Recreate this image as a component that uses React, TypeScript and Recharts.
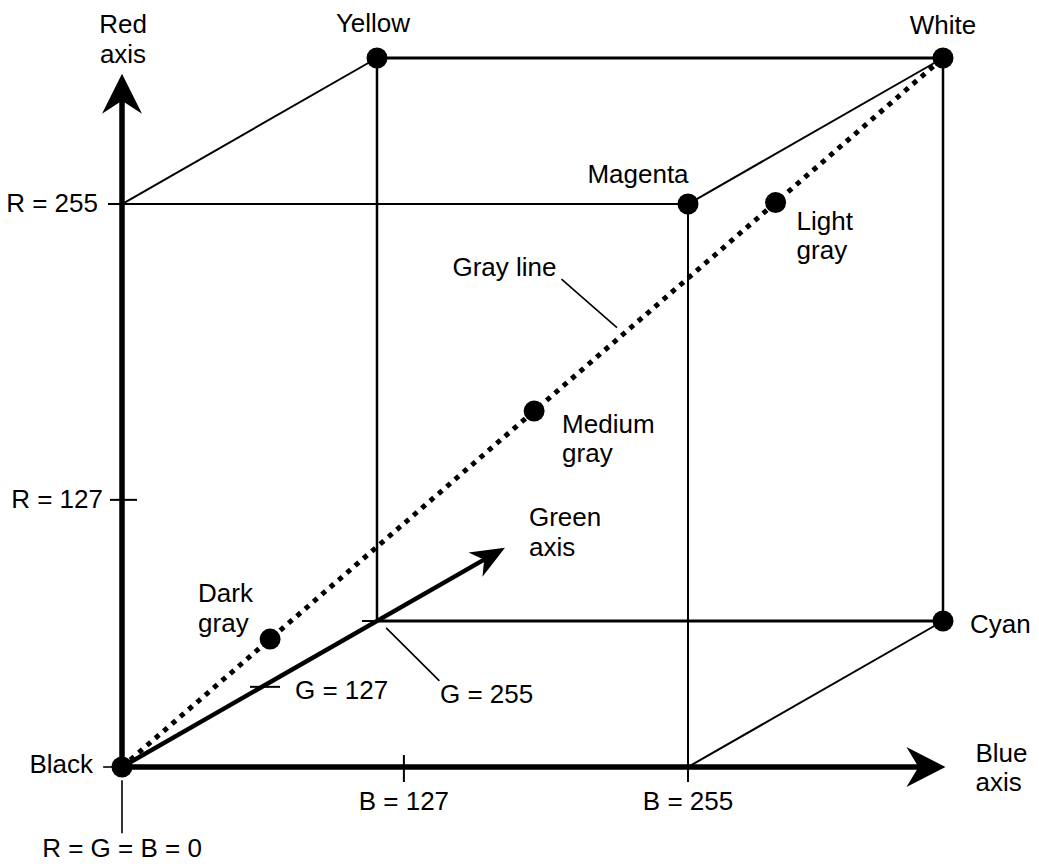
import React from 'react';
import { ComposedChart, XAxis, YAxis, ReferenceLine, Scatter } from 'recharts';

// ---------------- data ----------------
// RGB cube corners (B, G, R values)
const cornerNames = ['Black', 'Blue', 'Red', 'Magenta', 'Green', 'Cyan', 'Yellow', 'White'];
const cornerB = [0, 255, 0, 255, 0, 255, 0, 255];
const cornerG = [0, 0, 0, 0, 255, 255, 255, 255];
const cornerR = [0, 0, 255, 255, 0, 0, 255, 255];
const labelledCorners = ['Black', 'Magenta', 'Cyan', 'Yellow', 'White'];

// gray points on the gray line (R = G = B)
const grayNames = ['Dark gray', 'Medium gray', 'Light gray'];
const grayLevels = [46, 128, 203];

// cube edges (not on the axes)
const edgeFrom = ['Red', 'Magenta', 'Yellow', 'White', 'Cyan', 'Green', 'Red', 'Magenta', 'Blue'];
const edgeTo = ['Magenta', 'Blue', 'White', 'Cyan', 'Green', 'Yellow', 'Yellow', 'White', 'Cyan'];

// axes and their drawn extents (in channel units)
const axisNames = ['Red axis', 'Green axis', 'Blue axis'];
const axisChannel = ['R', 'G', 'B'];
const axisLengths = [314, 383, 371];

// axis ticks
const tickLabels = ['R = 255', 'R = 127', 'G = 127', 'G = 255', 'B = 127', 'B = 255'];
const tickChannel = ['R', 'R', 'G', 'G', 'B', 'B'];
const tickValues = [255, 121, 140, 255, 127, 255];

// pointer lines [b, g, r] -> [b, g, r]
const leaderNames = ['Gray line', 'G = 255', 'Black', 'R = G = B = 0'];
const leaderStart = [[198, 0, 221], [119, 0, 63], [-8.5, 0, 0], [0, 0, -6]];
const leaderEnd = [[223, 0, 199], [143, 0, 39], [-4, 0, 0], [0, 0, -30]];

// ---------------- layout ----------------
const W = 1039;
const H = 864;
const PX_B = 2.2196; // px per unit (horizontal)
const PX_R = 2.2078; // px per unit (vertical)
const ORIGIN_X = 122;
const ORIGIN_Y = 767;
const XMIN = -ORIGIN_X / PX_B;
const XMAX = XMIN + W / PX_B;
const YMIN = -(H - ORIGIN_Y) / PX_R;
const YMAX = YMIN + H / PX_R;
// oblique projection of the green axis (in B / R units per G unit)
const GX = 0.45053;
const GY = 0.25934;

const FONT = '"Liberation Sans", Arial, Helvetica, sans-serif';
const FONT_SIZE = 26;

function project(b: number, g: number, r: number) {
  return { x: b + g * GX, y: r + g * GY };
}
function corner(name: string) {
  const i = cornerNames.indexOf(name);
  return project(cornerB[i], cornerG[i], cornerR[i]);
}
function onAxis(ch: string, v: number) {
  if (ch === 'R') return project(0, 0, v);
  if (ch === 'G') return project(0, v, 0);
  return project(v, 0, 0);
}
// screen direction (px) of each axis
function axisDir(ch: string) {
  if (ch === 'R') return { dx: 0, dy: -1 };
  if (ch === 'B') return { dx: 1, dy: 0 };
  const vx = GX * PX_B;
  const vy = -GY * PX_R;
  const l = Math.hypot(vx, vy);
  return { dx: vx / l, dy: vy / l };
}

const EDGE_WIDTH: Record<string, number> = {
  'Yellow-White': 3,
  'Cyan-Green': 3,
  'White-Cyan': 2.5,
  'Green-Yellow': 2.5,
};
const AXIS_WIDTH: Record<string, number> = { R: 5.5, G: 4.5, B: 5.5 };
const ARROW: Record<string, { L: number; Wd: number; N: number }> = {
  R: { L: 40, Wd: 20, N: 27 },
  G: { L: 34, Wd: 14, N: 24 },
  B: { L: 39, Wd: 20, N: 27 },
};
const TICK_GEOM: Record<string, { dir: 'h' | 'v'; a: number; b: number }> = {
  'R = 255': { dir: 'h', a: -14, b: 0 },
  'R = 127': { dir: 'h', a: -12, b: 15 },
  'G = 127': { dir: 'h', a: -12, b: 18 },
  'G = 255': { dir: 'h', a: -15, b: 0 },
  'B = 127': { dir: 'v', a: -12, b: 15 },
  'B = 255': { dir: 'v', a: -12, b: 15 },
};

type Lay = { dx: number; dy: number; anchor: 'start' | 'middle' | 'end'; wrap?: boolean; lh?: number };
const LABEL_LAYOUT: Record<string, Lay> = {
  'Red axis': { dx: 1, dy: -41, anchor: 'middle', wrap: true, lh: 30 },
  'Green axis': { dx: 24, dy: -22, anchor: 'start', wrap: true, lh: 30 },
  'Blue axis': { dx: 30, dy: -5, anchor: 'start', wrap: true, lh: 29 },
  Yellow: { dx: -4, dy: -26, anchor: 'middle' },
  White: { dx: 0, dy: -24, anchor: 'middle' },
  Magenta: { dx: -50, dy: -21, anchor: 'middle' },
  Cyan: { dx: 27, dy: 12, anchor: 'start' },
  Black: { dx: -29, dy: 6, anchor: 'end' },
  'Dark gray': { dx: -72, dy: -37, anchor: 'start', wrap: true, lh: 30 },
  'Medium gray': { dx: 28, dy: 22, anchor: 'start', wrap: true, lh: 29 },
  'Light gray': { dx: 21, dy: 27, anchor: 'start', wrap: true, lh: 29 },
  'Gray line': { dx: -5, dy: -3, anchor: 'end' },
  'R = 255': { dx: -24, dy: 8, anchor: 'end' },
  'R = 127': { dx: -19, dy: 8, anchor: 'end' },
  'G = 127': { dx: 33, dy: 12, anchor: 'start' },
  'G = 255': { dx: 63, dy: 82, anchor: 'start' },
  'B = 127': { dx: 0, dy: 43, anchor: 'middle' },
  'B = 255': { dx: 0, dy: 43, anchor: 'middle' },
  'R = G = B = 0': { dx: 0, dy: 90, anchor: 'middle' },
};

// ---------------- derived series ----------------
const dotData = [
  ...labelledCorners.map((n) => ({ name: n, ...corner(n) })),
  ...grayNames.map((n, i) => ({ name: n, ...project(grayLevels[i], grayLevels[i], grayLevels[i]) })),
];

const arrowData = axisNames.map((n, i) => ({
  name: n,
  ch: axisChannel[i],
  ...onAxis(axisChannel[i], axisLengths[i]),
}));

const labelData = [
  ...arrowData.map((a) => ({ name: a.name, x: a.x, y: a.y })),
  ...dotData.map((d) => ({ name: d.name, x: d.x, y: d.y })),
  ...tickLabels.map((t, i) => ({ name: t, ...onAxis(tickChannel[i], tickValues[i]) })),
  { name: 'Gray line', ...project(leaderStart[0][0], leaderStart[0][1], leaderStart[0][2]) },
  { name: 'R = G = B = 0', ...corner('Black') },
];

// ---------------- shapes ----------------
function Dot(props: any) {
  const { cx, cy } = props;
  if (cx == null || cy == null) return null;
  return <circle cx={cx} cy={cy} r={10.5} fill="#000" />;
}

function ArrowHead(props: any) {
  const { cx, cy, payload } = props;
  if (cx == null || cy == null) return null;
  const g = ARROW[payload.ch];
  const d = axisDir(payload.ch);
  const nx = -d.dy;
  const ny = d.dx;
  const pts = [
    [cx, cy],
    [cx - d.dx * g.L + nx * g.Wd, cy - d.dy * g.L + ny * g.Wd],
    [cx - d.dx * g.N, cy - d.dy * g.N],
    [cx - d.dx * g.L - nx * g.Wd, cy - d.dy * g.L - ny * g.Wd],
  ];
  return <polygon points={pts.map((p) => p.join(',')).join(' ')} fill="#000" />;
}

function TextLabel(props: any) {
  const { cx, cy, payload } = props;
  if (cx == null || cy == null) return null;
  const lay = LABEL_LAYOUT[payload.name];
  if (!lay) return null;
  const lines: string[] = lay.wrap ? payload.name.split(' ') : [payload.name];
  const x = cx + lay.dx;
  return (
    <text
      x={x}
      y={cy + lay.dy}
      textAnchor={lay.anchor}
      fontFamily={FONT}
      fontSize={FONT_SIZE}
      fill="#000"
    >
      {lines.map((l, i) => (
        <tspan key={i} x={x} dy={i === 0 ? 0 : lay.lh}>
          {l}
        </tspan>
      ))}
    </text>
  );
}

// ---------------- app ----------------
export default function App() {
  const black = corner('Black');
  const white = corner('White');

  const edgeLines = edgeFrom.map((f, i) => {
    const t = edgeTo[i];
    const key = `${f}-${t}`;
    return (
      <ReferenceLine
        key={`edge-${key}`}
        segment={[corner(f), corner(t)]}
        stroke="#000"
        strokeWidth={EDGE_WIDTH[key] ?? 2}
        ifOverflow="visible"
      />
    );
  });

  const axisLines = axisNames.map((n, i) => {
    const ch = axisChannel[i];
    const tip = onAxis(ch, axisLengths[i]);
    const d = axisDir(ch);
    const back = ARROW[ch].N - 6;
    const end = { x: tip.x - (d.dx * back) / PX_B, y: tip.y + (d.dy * back) / PX_R };
    return (
      <ReferenceLine
        key={`axis-${n}`}
        segment={[black, end]}
        stroke="#000"
        strokeWidth={AXIS_WIDTH[ch]}
        ifOverflow="visible"
      />
    );
  });

  const tickLines = tickLabels.map((t, i) => {
    const p = onAxis(tickChannel[i], tickValues[i]);
    const g = TICK_GEOM[t];
    const seg =
      g.dir === 'h'
        ? [
            { x: p.x + g.a / PX_B, y: p.y },
            { x: p.x + g.b / PX_B, y: p.y },
          ]
        : [
            { x: p.x, y: p.y - g.a / PX_R },
            { x: p.x, y: p.y - g.b / PX_R },
          ];
    return <ReferenceLine key={`tick-${t}`} segment={seg} stroke="#000" strokeWidth={2} ifOverflow="visible" />;
  });

  const leaderLines = leaderNames.map((n, i) => (
    <ReferenceLine
      key={`leader-${n}`}
      segment={[
        project(leaderStart[i][0], leaderStart[i][1], leaderStart[i][2]),
        project(leaderEnd[i][0], leaderEnd[i][1], leaderEnd[i][2]),
      ]}
      stroke="#000"
      strokeWidth={1.6}
      ifOverflow="visible"
    />
  ));

  return (
    <div style={{ position: 'absolute', left: 0, top: 0, width: W, height: H, background: '#fff' }}>
      <ComposedChart width={W} height={H} margin={{ top: 0, right: 0, bottom: 0, left: 0 }}>
        <XAxis type="number" dataKey="x" domain={[XMIN, XMAX]} allowDataOverflow hide />
        <YAxis type="number" dataKey="y" domain={[YMIN, YMAX]} allowDataOverflow hide />
        {edgeLines}
        {leaderLines}
        {tickLines}
        <ReferenceLine
          segment={[black, white]}
          stroke="#000"
          strokeWidth={5}
          strokeDasharray="5 6"
          ifOverflow="visible"
        />
        {axisLines}
        <Scatter data={arrowData} shape={ArrowHead} isAnimationActive={false} />
        <Scatter data={dotData} shape={Dot} isAnimationActive={false} />
        <Scatter data={labelData} shape={TextLabel} isAnimationActive={false} />
      </ComposedChart>
    </div>
  );
}
